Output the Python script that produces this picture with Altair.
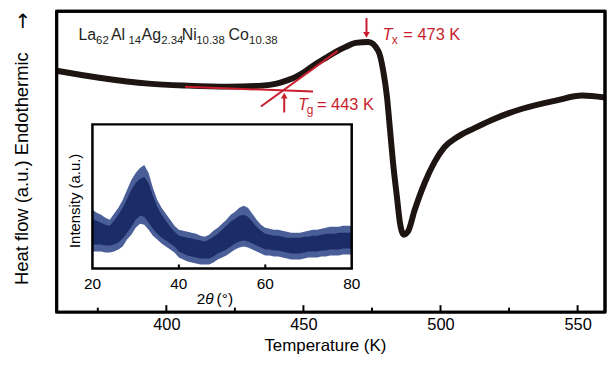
import altair as alt
import pandas as pd

W, H = 552, 303
FONT = "Liberation Sans"
RED = "#c81e2d"
INK = "#1e1412"

# ---- DSC curve (temperature K, heat flow a.u.) ----
temp = [360, 375.5, 393.5, 407.8, 422.2, 434.8, 440.2, 443.8, 447.4, 451.0, 454.6, 458.2,
        461.8, 465.4, 469.0, 473.7, 477.3, 479.1, 480.5, 481.6, 482.7, 484.1, 485.2, 486.6,
        488.1, 490.6, 494.2, 497.8, 501.4, 506.0, 512.2, 518.3, 530.1, 542.0, 551.7, 560]
heat = [243, 236, 230, 228, 227, 228, 230, 233, 237, 243, 250, 256,
        262, 267, 271, 272, 263, 243, 216, 183, 150, 116, 90, 78,
        81, 103, 130, 151, 166, 176, 185, 193, 205, 213, 218, 216]

# tangent construction lines
base_T = [406.8, 453.5]
base_h = [227, 222]
onset_T = [434.5, 462.5]
onset_h = [207, 263]
Tg, Tx = 443, 473

major_ticks = [400, 450, 500, 550]
minor_ticks = [375, 425, 475, 525]

# ---- XRD inset (2theta deg, intensity a.u.) ----
two_theta = list(range(20, 81))
xrd_hi = [59, 56, 54, 51, 49, 55, 61, 69, 79, 89, 96, 101, 104, 96, 81, 69, 61, 55, 49, 43,
          39, 38, 37, 36, 35, 33, 32, 34, 38, 41, 45, 49, 54, 57, 61, 63, 61, 55, 49, 44,
          41, 40, 39, 39, 38, 37, 36, 36, 36, 37, 38, 39, 39, 40, 41, 42, 42, 42, 43, 43, 43]
xrd_lo = [17, 17, 17, 16, 16, 17, 19, 22, 29, 34, 41, 45, 44, 39, 33, 29, 25, 22, 19, 16,
          11, 9, 7, 6, 5, 4, 4, 4, 6, 9, 11, 13, 16, 19, 21, 22, 21, 19, 17, 15,
          13, 13, 12, 12, 11, 10, 9, 9, 9, 10, 11, 11, 11, 12, 12, 13, 13, 13, 14, 14, 14]
core_hi = [50, 48, 46, 44, 43, 48, 54, 61, 70, 79, 86, 90, 92, 86, 73, 62, 54, 48, 42, 37,
           33, 32, 31, 30, 29, 28, 27, 29, 32, 35, 39, 43, 47, 50, 53, 54, 52, 47, 42, 38,
           35, 34, 33, 33, 32, 31, 31, 31, 31, 32, 32, 33, 33, 34, 35, 35, 35, 36, 36, 36, 36]
core_lo = [24, 24, 24, 23, 23, 24, 26, 30, 36, 42, 49, 53, 52, 46, 40, 35, 31, 28, 25, 22,
           17, 15, 13, 12, 11, 10, 10, 10, 12, 15, 17, 19, 22, 25, 27, 28, 27, 25, 23, 21,
           19, 19, 18, 18, 17, 16, 15, 15, 15, 16, 17, 17, 17, 18, 18, 19, 19, 19, 20, 20, 20]
inset_ticks = [20, 40, 60, 80]
inset_minor = [40, 60]

T_MIN, T_MAX, H_MAX = 360, 560, 303
xs = alt.Scale(domain=[T_MIN, T_MAX], nice=False, zero=False)
ys = alt.Scale(domain=[0, H_MAX], nice=False, zero=False)
ix = alt.Scale(domain=[20, 80], range=[36, 297], nice=False, zero=False)
iy = alt.Scale(domain=[0, 145], range=[259, 114], nice=False, zero=False)

# plot-area pixel origin of reference image
OX, OY = 57, 10


def txt(s, px, py, size, color="black", italic=False, align="left",
        baseline="alphabetic", angle=0, font=FONT):
    kw = dict(text=s, fontSize=size, color=color, font=font, align=align,
              baseline=baseline)
    if italic:
        kw["fontStyle"] = "italic"
    if angle:
        kw["angle"] = angle
    return alt.Chart(pd.DataFrame({"a": [0]})).mark_text(**kw).encode(
        x=alt.value(px - OX), y=alt.value(py - OY))


layers = []

# main DSC curve with x axis
dsc = pd.DataFrame({"T": temp, "h": heat})
layers.append(
    alt.Chart(dsc).mark_line(color=INK, strokeWidth=6, interpolate="monotone",
                             clip=True, strokeCap="round").encode(
        x=alt.X("T:Q", scale=xs, axis=alt.Axis(
            values=major_ticks, ticks=False, domain=False, grid=False,
            labelFont=FONT, labelFontSize=16.5, labelColor="black", labelPadding=4,
            title="Temperature (K)", titleFont=FONT, titleFontSize=17,
            titleFontWeight="normal", titleColor="black", titlePadding=5,
            titleX=270)),
        y=alt.Y("h:Q", scale=ys, axis=None))
)

# plot frame: four sides as rules
layers.append(
    alt.Chart(pd.DataFrame({"x": [T_MIN, T_MAX]})).mark_rule(color="black", strokeWidth=3).encode(
        x=alt.X("x:Q", scale=xs, axis=None), y=alt.value(0), y2=alt.value(H))
)
layers.append(
    alt.Chart(pd.DataFrame({"y": [0, H_MAX]})).mark_rule(color="black", strokeWidth=3).encode(
        y=alt.Y("y:Q", scale=ys, axis=None), x=alt.value(0), x2=alt.value(W))
)

# inward ticks on main x axis
layers.append(
    alt.Chart(pd.DataFrame({"t": major_ticks})).mark_rule(color="black", strokeWidth=2).encode(
        x=alt.X("t:Q", scale=xs, axis=None), y=alt.value(H), y2=alt.value(H - 7))
)
layers.append(
    alt.Chart(pd.DataFrame({"t": minor_ticks})).mark_rule(color="black", strokeWidth=2).encode(
        x=alt.X("t:Q", scale=xs, axis=None), y=alt.value(H), y2=alt.value(H - 4.5))
)

# tangent lines
for tt, hh in ((base_T, base_h), (onset_T, onset_h)):
    layers.append(
        alt.Chart(pd.DataFrame({"T": tt, "h": hh})).mark_line(color=RED, strokeWidth=2).encode(
            x=alt.X("T:Q", scale=xs, axis=None), y=alt.Y("h:Q", scale=ys, axis=None))
    )

# Tg arrow (pointing up)
layers.append(
    alt.Chart(pd.DataFrame({"T": [Tg], "h0": [201], "h1": [216]})).mark_rule(
        color=RED, strokeWidth=2).encode(
        x=alt.X("T:Q", scale=xs, axis=None), y=alt.Y("h0:Q", scale=ys, axis=None), y2="h1:Q")
)
layers.append(
    alt.Chart(pd.DataFrame({"T": [Tg], "h": [218]})).mark_point(
        shape="triangle-up", filled=True, color=RED, opacity=1, size=45).encode(
        x=alt.X("T:Q", scale=xs, axis=None), y=alt.Y("h:Q", scale=ys, axis=None))
)
# Tx arrow (pointing down)
layers.append(
    alt.Chart(pd.DataFrame({"T": [Tx], "h0": [296], "h1": [281]})).mark_rule(
        color=RED, strokeWidth=2).encode(
        x=alt.X("T:Q", scale=xs, axis=None), y=alt.Y("h0:Q", scale=ys, axis=None), y2="h1:Q")
)
layers.append(
    alt.Chart(pd.DataFrame({"T": [Tx], "h": [279]})).mark_point(
        shape="triangle-down", filled=True, color=RED, opacity=1, size=45).encode(
        x=alt.X("T:Q", scale=xs, axis=None), y=alt.Y("h:Q", scale=ys, axis=None))
)

# annotations
layers += [
    txt("T", 300, 110, 16.5, RED, italic=True),
    txt("g", 308.8, 114, 12, RED),
    txt("= 443 K", 319, 110, 16.5, RED),
    txt("T", 385, 39.3, 16.5, RED, italic=True),
    txt("x", 394.4, 43, 12, RED),
    txt("= 473 K", 406, 39.3, 16.5, RED),
]
comp = [("La", 79, False), ("62", 96.7, True), ("Al", 111.7, False), ("14", 129.3, True),
        ("Ag", 142.5, False), ("2.34", 162.2, True), ("Ni", 183, False),
        ("10.38", 197.5, True), ("Co", 230, False), ("10.38", 250.7, True)]
for s, px, sub in comp:
    if sub:
        layers.append(txt(s, px, 42.7, 11.5, "#231f20"))
    else:
        layers.append(txt(s, px, 39.3, 16, "#231f20"))

# y-axis title with arrow
layers.append(txt("Heat flow (a.u.) Endothermic", 22, 168.5, 18.5, "black",
                  align="center", baseline="middle", angle=270))
layers.append(txt("\u2191", 23, 21, 20, "black", align="center", baseline="middle",
                  font="DejaVu Sans"))

# ---- inset ----
xrd = pd.DataFrame({"tt": two_theta, "hi": xrd_hi, "lo": xrd_lo,
                    "chi": core_hi, "clo": core_lo})
layers.append(
    alt.Chart(xrd).mark_area(color="#4a5e98", interpolate="linear").encode(
        x=alt.X("tt:Q", scale=ix, axis=None), y=alt.Y("lo:Q", scale=iy, axis=None), y2="hi:Q")
)
layers.append(
    alt.Chart(xrd).mark_area(color="#1b2c66", interpolate="linear").encode(
        x=alt.X("tt:Q", scale=ix, axis=None), y=alt.Y("clo:Q", scale=iy, axis=None), y2="chi:Q")
)
layers.append(
    alt.Chart(pd.DataFrame({"x0": [20], "x1": [80], "y0": [0], "y1": [145]})).mark_rect(
        fillOpacity=0, stroke="black", strokeWidth=2.5).encode(
        x=alt.X("x0:Q", scale=ix, axis=None), x2="x1:Q",
        y=alt.Y("y0:Q", scale=iy, axis=None), y2="y1:Q")
)
layers.append(
    alt.Chart(pd.DataFrame({"t": inset_minor})).mark_rule(color="black", strokeWidth=2).encode(
        x=alt.X("t:Q", scale=ix, axis=None), y=alt.value(259), y2=alt.value(255))
)
layers.append(
    alt.Chart(pd.DataFrame({"t": inset_ticks})).mark_text(
        fontSize=15.5, font=FONT, color="black", baseline="middle", align="center").encode(
        x=alt.X("t:Q", scale=ix, axis=None), y=alt.value(285 - OY), text=alt.Text("t:Q"))
)
layers += [
    txt("2", 198, 300, 15.5, "black", baseline="middle"),
    txt("\u03b8", 206.5, 300, 15.5, "black", italic=True, baseline="middle"),
    txt("(\u00b0)", 218, 300, 15.5, "black", baseline="middle"),
    txt("Intensity (a.u.)", 75, 201, 15, "black", align="center", baseline="middle", angle=270),
]

chart = alt.layer(*layers).resolve_scale(x="independent", y="independent").properties(
    width=W, height=H, padding={"left": 4, "top": 0, "right": 0, "bottom": 0}
).configure(font=FONT).configure_view(stroke="black", strokeWidth=3)

chart.save("out.html", embed_options={"renderer": "svg", "actions": False})
